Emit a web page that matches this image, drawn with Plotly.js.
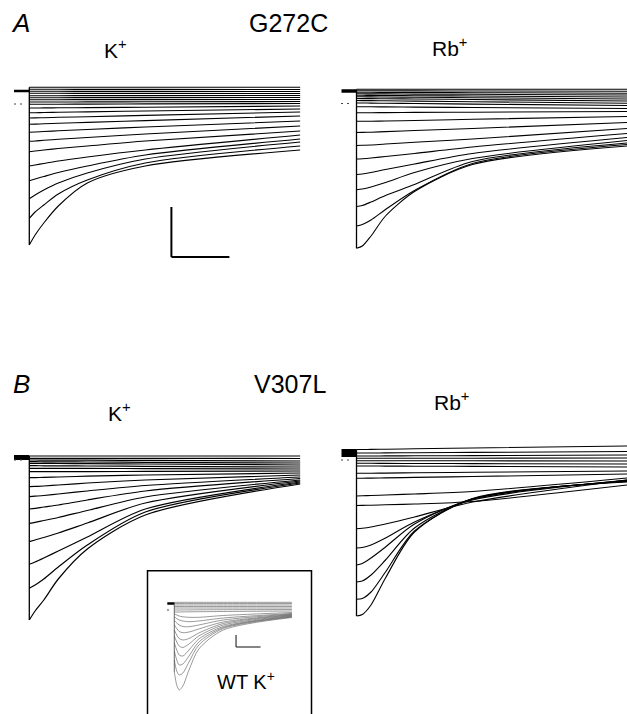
<!DOCTYPE html>
<html><head><meta charset="utf-8">
<script src="https://cdn.plot.ly/plotly-3.0.1.min.js"></script>
<style>html,body{margin:0;padding:0;background:#fff}#chart{width:627px;height:714px}</style>
</head><body><div id="chart"></div>
<script>
// ---- sample times (ms) ----
const tMain  = [0, 10, 25, 50, 100, 200, 467];
const tInset = [0, 10, 20, 35, 60, 100, 200, 480];

// ---- holding currents (µA) ----
const holdAK = 1.3, holdARb = 1.25, holdBK = 0.25, holdBRb = 0.7, holdWT = 3.25;

// ---- A, G272C, K+ : current (µA) of each sweep at tMain ----
const aK = [
 [1.67,1.67,1.67,1.67,1.67,1.67,1.67],
 [1.47,1.47,1.47,1.47,1.46,1.46,1.45],
 [1.27,1.27,1.27,1.27,1.26,1.26,1.25],
 [1.07,1.07,1.07,1.07,1.06,1.06,1.05],
 [0.83,0.83,0.83,0.83,0.84,0.84,0.85],
 [0.63,0.63,0.63,0.63,0.64,0.64,0.65],
 [0.43,0.43,0.43,0.43,0.44,0.44,0.45],
 [0.20,0.20,0.20,0.20,0.21,0.22,0.25],
 [-0.03,-0.03,-0.02,-0.02,-0.01,0.01,0.05],
 [-0.40,-0.40,-0.39,-0.38,-0.36,-0.32,-0.20],
 [-0.87,-0.87,-0.85,-0.83,-0.79,-0.70,-0.50],
 [-1.40,-1.39,-1.37,-1.33,-1.27,-1.14,-0.80],
 [-2.03,-2.01,-1.98,-1.93,-1.84,-1.66,-1.20],
 [-2.83,-2.80,-2.75,-2.68,-2.55,-2.30,-1.70],
 [-3.73,-3.70,-3.63,-3.53,-3.35,-3.00,-2.20],
 [-4.77,-4.70,-4.60,-4.45,-4.20,-3.70,-2.70],
 [-6.20,-6.10,-5.95,-5.70,-5.30,-4.60,-3.10],
 [-7.67,-7.50,-7.25,-6.85,-6.20,-5.10,-3.50],
 [-9.47,-9.10,-8.60,-7.90,-6.90,-5.50,-3.80],
 [-11.43,-10.80,-10.10,-9.00,-7.60,-5.90,-4.20],
 [-14.10,-13.10,-11.90,-10.20,-7.90,-6.20,-4.60]
];

// ---- A, G272C, Rb+ ----
const aRb = [
 [1.42,1.42,1.42,1.42,1.42,1.42,1.42],
 [1.27,1.27,1.27,1.27,1.26,1.25,1.23],
 [1.12,1.12,1.12,1.11,1.10,1.08,1.03],
 [0.97,0.97,0.96,0.96,0.94,0.92,0.85],
 [0.82,0.82,0.81,0.80,0.78,0.75,0.65],
 [0.67,0.67,0.66,0.65,0.62,0.58,0.45],
 [0.50,0.49,0.49,0.47,0.45,0.40,0.25],
 [0.30,0.29,0.29,0.27,0.24,0.18,0.02],
 [0.05,0.05,0.04,0.02,0.00,-0.06,-0.20],
 [-0.32,-0.32,-0.33,-0.34,-0.36,-0.40,-0.50],
 [-0.92,-0.92,-0.92,-0.91,-0.89,-0.87,-0.80],
 [-1.78,-1.78,-1.77,-1.75,-1.70,-1.58,-1.30],
 [-2.90,-2.89,-2.87,-2.81,-2.70,-2.50,-1.90],
 [-4.20,-4.18,-4.15,-4.05,-3.88,-3.55,-2.50],
 [-5.55,-5.52,-5.45,-5.30,-5.00,-4.35,-3.00],
 [-7.10,-7.05,-6.90,-6.60,-6.05,-5.00,-3.40],
 [-8.62,-8.55,-8.35,-7.90,-6.90,-5.50,-3.70],
 [-10.30,-10.20,-9.85,-9.20,-8.10,-5.80,-3.95],
 [-12.25,-12.10,-11.65,-10.60,-8.70,-6.00,-4.10],
 [-14.48,-14.25,-13.25,-11.25,-8.80,-6.10,-4.25]
];

// ---- B, V307L, K+ ----
const bK = [
 [0.40,0.40,0.40,0.40,0.40,0.40,0.40],
 [0.17,0.17,0.17,0.17,0.16,0.16,0.15],
 [0.00,0.00,-0.01,-0.01,-0.02,-0.04,-0.10],
 [-0.17,-0.17,-0.18,-0.19,-0.20,-0.23,-0.30],
 [-0.33,-0.33,-0.34,-0.35,-0.37,-0.40,-0.50],
 [-0.57,-0.57,-0.58,-0.59,-0.60,-0.63,-0.70],
 [-0.83,-0.83,-0.83,-0.84,-0.84,-0.86,-0.90],
 [-1.17,-1.17,-1.17,-1.16,-1.16,-1.14,-1.10],
 [-1.77,-1.76,-1.74,-1.70,-1.62,-1.50,-1.30],
 [-2.67,-2.64,-2.60,-2.50,-2.30,-2.00,-1.50],
 [-3.67,-3.62,-3.55,-3.40,-3.10,-2.55,-1.70],
 [-4.90,-4.83,-4.70,-4.50,-4.00,-3.10,-1.85],
 [-6.33,-6.23,-6.05,-5.75,-5.05,-3.70,-2.00],
 [-8.17,-8.00,-7.75,-7.30,-6.30,-4.30,-2.10],
 [-10.43,-10.20,-9.80,-9.10,-7.70,-4.90,-2.20],
 [-12.83,-12.50,-11.90,-10.70,-8.50,-5.20,-2.30],
 [-16.00,-15.10,-14.00,-11.90,-8.90,-5.50,-2.40]
];

// ---- B, V307L, Rb+ ----
const bRb = [
 [1.05,1.05,1.06,1.08,1.12,1.20,1.40],
 [0.70,0.70,0.70,0.71,0.73,0.76,0.85],
 [0.40,0.40,0.40,0.41,0.42,0.44,0.50],
 [0.17,0.17,0.17,0.17,0.18,0.18,0.20],
 [-0.07,-0.07,-0.07,-0.07,-0.08,-0.08,-0.10],
 [-0.33,-0.33,-0.33,-0.34,-0.35,-0.36,-0.40],
 [-0.60,-0.60,-0.60,-0.61,-0.62,-0.64,-0.70],
 [-1.33,-1.33,-1.32,-1.31,-1.28,-1.23,-1.10],
 [-1.83,-1.82,-1.81,-1.79,-1.74,-1.65,-1.40],
 [-3.60,-3.58,-3.55,-3.50,-3.40,-3.15,-1.80],
 [-4.55,-4.54,-4.52,-4.48,-4.40,-4.15,-2.50],
 [-6.87,-6.82,-6.70,-6.40,-5.70,-4.20,-2.00],
 [-8.80,-8.75,-8.50,-7.80,-6.20,-4.00,-2.00],
 [-10.50,-10.35,-9.80,-8.70,-6.40,-3.90,-2.05],
 [-12.20,-12.10,-11.50,-10.00,-6.80,-3.90,-2.10],
 [-13.93,-13.85,-13.20,-11.20,-7.10,-3.90,-2.15],
 [-15.60,-15.45,-14.50,-11.80,-7.20,-3.85,-2.20]
];

// ---- inset, WT, K+ : current (µA) at tInset ----
const wtK = [
 [-31,-37.5,-40,-38,-30,-19.5,-10,-3.75],
 [-25,-30.5,-32.5,-31.5,-26,-17.5,-9.25,-3.5],
 [-20.5,-25,-27.5,-27,-23,-16,-8.75,-3.25],
 [-16.5,-20,-22.5,-23,-20,-14.5,-8.25,-3],
 [-13,-16,-18,-18.75,-17,-13,-7.5,-2.75],
 [-10,-12.5,-14.25,-15,-14.25,-11.5,-6.75,-2.5],
 [-7.5,-9.25,-10.75,-11.35,-11,-9.5,-6,-2.25],
 [-5.25,-6.5,-7.5,-8.25,-8.35,-7.5,-5,-2],
 [-3.5,-4.25,-5,-5.5,-5.85,-5.5,-4,-1.75],
 [-2,-2.5,-3,-3.4,-3.65,-3.65,-2.75,-1.25],
 [-1,-1,-1,-0.95,-0.9,-0.85,-0.75,-0.5],
 [0,0,0,0.02,0.05,0.1,0.15,0.25],
 [1,1,1,1,1,1,1,1],
 [1.75,1.75,1.75,1.75,1.75,1.75,1.75,1.75],
 [2.5,2.5,2.5,2.5,2.5,2.5,2.5,2.5],
 [3.25,3.25,3.25,3.25,3.25,3.25,3.25,3.25],
 [3.85,3.85,3.85,3.85,3.85,3.85,3.85,3.85]
];

// ---- figure geometry (pixels of the 627x714 page) ----
const W = 627, H = 714;
const panels = [
 {data:aK,  t:tMain,  x0:29.3,  y0:104,   sx:0.58,  sy:10, hold:holdAK,  holdPx:15.3, holdW:2.5, dots:[14,24],   lw:1.1, color:'#000'},
 {data:aRb, t:tMain,  x0:356.5, y0:103.5, sx:0.58,  sy:10, hold:holdARb, holdPx:15,   holdW:3.5, dots:[341,351], lw:1.1, color:'#000'},
 {data:bK,  t:tMain,  x0:29.3,  y0:460,   sx:0.58,  sy:10, hold:holdBK,  holdPx:15.3, holdW:5,   dots:[14,24],   lw:1.2, color:'#000'},
 {data:bRb, t:tMain,  x0:356.5, y0:460,   sx:0.58,  sy:10, hold:holdBRb, holdPx:15,   holdW:8,   dots:[341,351], lw:1.1, color:'#000'},
 {data:wtK, t:tInset, x0:174.3, y0:610,   sx:0.245, sy:2,  hold:holdWT,  holdPx:7,    holdW:2.5, dots:[167,172], lw:0.6, color:'#555'}
];

const traces = [];
const layout = {
  width: W, height: H, margin:{l:0,r:0,t:0,b:0},
  paper_bgcolor:'#fff', plot_bgcolor:'rgba(0,0,0,0)', showlegend:false,
  shapes: [], annotations: []
};

panels.forEach((p, i) => {
  const k = i + 1;
  const xa = k === 1 ? 'x' : 'x' + k, ya = k === 1 ? 'y' : 'y' + k;
  const xk = k === 1 ? 'xaxis' : 'xaxis' + k, yk = k === 1 ? 'yaxis' : 'yaxis' + k;
  layout[xk] = {domain:[0,1], range:[-p.x0 / p.sx, (W - p.x0) / p.sx], visible:false, fixedrange:true, anchor:ya};
  layout[yk] = {domain:[0,1], range:[(p.y0 - H) / p.sy, p.y0 / p.sy], visible:false, fixedrange:true, anchor:xa};

  const xs = [], ys = [];
  p.data.forEach(row => { row.forEach((v, j) => { xs.push(p.t[j]); ys.push(v); }); xs.push(null); ys.push(null); });
  traces.push({x:xs, y:ys, xaxis:xa, yaxis:ya, mode:'lines', hoverinfo:'skip',
    line:{shape:'spline', smoothing:0.8, width:p.lw, color:p.color}});

  // holding segment
  traces.push({x:[-p.holdPx / p.sx, 0], y:[p.hold, p.hold], xaxis:xa, yaxis:ya, mode:'lines', hoverinfo:'skip',
    line:{width:p.holdW, color:'#000'}});
  // voltage step (capacitive edge)
  const firsts = p.data.map(r => r[0]);
  const top = Math.max(p.hold, ...firsts), bot = Math.min(...firsts);
  traces.push({x:[0, 0], y:[top, bot], xaxis:xa, yaxis:ya, mode:'lines', hoverinfo:'skip',
    line:{width: i === 4 ? 0.8 : 1.3, color: i === 4 ? '#444' : '#000'}});
  // zero-current marker
  traces.push({x:[(p.dots[0] - p.x0) / p.sx, (p.dots[1] - p.x0) / p.sx], y:[0, 0], xaxis:xa, yaxis:ya, mode:'lines', hoverinfo:'skip',
    line:{width:1, color:'#444', dash:'2px,4px'}});
});

// scale bars (A: 5 µA / 100 ms; inset: 6 µA / 100 ms)
const barA = {t:245, i:-15.3, dt:100, di:5};
const barWT = {t:252, i:-18.5, dt:100, di:6};
layout.shapes.push(
  {type:'line', xref:'x',  yref:'y',  x0:barA.t, x1:barA.t, y0:barA.i, y1:barA.i + barA.di, line:{width:2, color:'#000'}},
  {type:'line', xref:'x',  yref:'y',  x0:barA.t, x1:barA.t + barA.dt, y0:barA.i, y1:barA.i, line:{width:2, color:'#000'}},
  {type:'line', xref:'x5', yref:'y5', x0:barWT.t, x1:barWT.t, y0:barWT.i, y1:barWT.i + barWT.di, line:{width:1.2, color:'#333'}},
  {type:'line', xref:'x5', yref:'y5', x0:barWT.t, x1:barWT.t + barWT.dt, y0:barWT.i, y1:barWT.i, line:{width:1.2, color:'#333'}},
  // inset frame
  {type:'rect', xref:'paper', yref:'paper', x0:147.5 / W, x1:311.5 / W, y0:1 - 718 / H, y1:1 - 570.7 / H,
   line:{width:1.5, color:'#000'}, fillcolor:'rgba(0,0,0,0)'}
);

const FONT = 'Liberation Sans, Arial, Helvetica, sans-serif';
function label(text, xpx, ypx, size) {
  return {text, x:xpx / W, y:1 - ypx / H, xref:'paper', yref:'paper', showarrow:false,
    xanchor:'center', yanchor:'middle', font:{family:FONT, size, color:'#000'}};
}
layout.annotations.push(
  label('<i>A</i>', 20, 23.5, 26),
  label('G272C', 288, 23.5, 25),
  label('K<sup>+</sup>', 115, 49, 21),
  label('Rb<sup>+</sup>', 449, 47.5, 21),
  label('<i>B</i>', 21, 383.5, 26),
  label('V307L', 290, 383.5, 25),
  label('K<sup>+</sup>', 119, 412.5, 21),
  label('Rb<sup>+</sup>', 452, 400.5, 21),
  label('WT K<sup>+</sup>', 246, 680, 20)
);

Plotly.newPlot('chart', traces, layout, {displayModeBar:false}).then(() => {
  // give every drawn text an explicit size attribute as well as its inline style
  document.querySelectorAll('#chart text').forEach(t => {
    const fs = parseFloat(t.style.fontSize || getComputedStyle(t).fontSize);
    if (fs) t.setAttribute('font-size', fs);
  });
});
</script>
</body></html>
